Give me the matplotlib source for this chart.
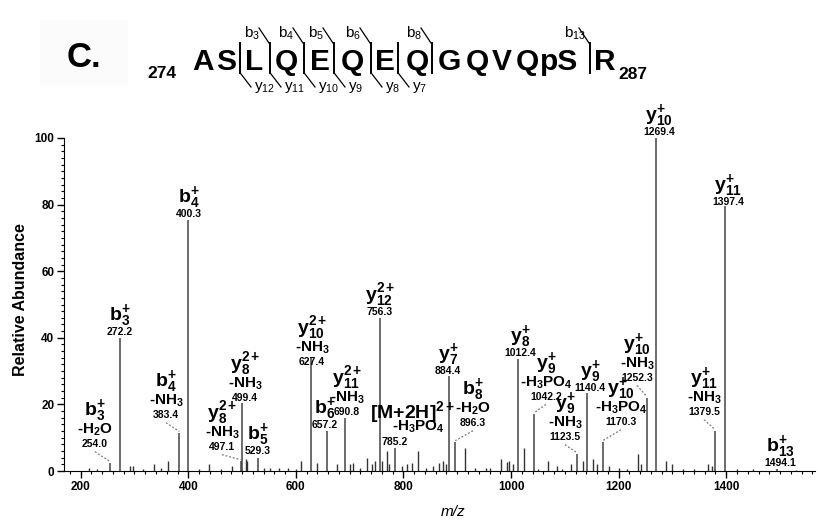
import matplotlib
matplotlib.use("Agg")
import matplotlib.pyplot as plt
from matplotlib.ticker import MultipleLocator
from matplotlib.transforms import offset_copy
from matplotlib.patches import Rectangle

plt.rcParams['font.family'] = ['Liberation Sans', 'DejaVu Sans']
plt.rcParams['mathtext.fontset'] = 'custom'
plt.rcParams['mathtext.rm'] = 'Liberation Sans'
plt.rcParams['mathtext.bf'] = 'Liberation Sans:bold'
plt.rcParams['mathtext.it'] = 'Liberation Sans:italic'

# labelled peaks (m/z, relative abundance)
peak_mz = [254.0, 272.2, 383.4, 400.3, 497.1, 499.4, 529.3, 627.4, 657.2, 690.8, 756.3, 785.2,
           884.4, 896.3, 1012.4, 1042.2, 1123.5, 1140.4, 1170.3, 1252.3, 1269.4, 1379.5, 1397.4, 1494.1]
peak_int = [2.5, 40, 11.5, 75.5, 3, 20.4, 4, 34, 12, 16, 46, 7,
            28.6, 8.7, 33.7, 17, 5, 23.5, 8.7, 22, 100, 12, 79.5, 0.6]
peak_ion = [r'b$_\mathbf{3}^\mathbf{+}$', r'b$_\mathbf{3}^\mathbf{+}$',
            r'b$_\mathbf{4}^\mathbf{+}$', r'b$_\mathbf{4}^\mathbf{+}$',
            r'y$_\mathbf{8}^\mathbf{2+}$', r'y$_\mathbf{8}^\mathbf{2+}$',
            r'b$_\mathbf{5}^\mathbf{+}$', r'y$_\mathbf{10}^\mathbf{2+}$',
            r'b$_\mathbf{6}^\mathbf{+}$', r'y$_\mathbf{11}^\mathbf{2+}$',
            r'y$_\mathbf{12}^\mathbf{2+}$', r'[M+2H]$^\mathbf{2+}$',
            r'y$_\mathbf{7}^\mathbf{+}$', r'b$_\mathbf{8}^\mathbf{+}$',
            r'y$_\mathbf{8}^\mathbf{+}$', r'y$_\mathbf{9}^\mathbf{+}$',
            r'y$_\mathbf{9}^\mathbf{+}$', r'y$_\mathbf{9}^\mathbf{+}$',
            r'y$_\mathbf{10}^\mathbf{+}$', r'y$_\mathbf{10}^\mathbf{+}$',
            r'y$_\mathbf{10}^\mathbf{+}$', r'y$_\mathbf{11}^\mathbf{+}$',
            r'y$_\mathbf{11}^\mathbf{+}$', r'b$_\mathbf{13}^\mathbf{+}$']
NH3 = r'-NH$_\mathbf{3}$'
H2O = r'-H$_\mathbf{2}$O'
H3PO4 = r'-H$_\mathbf{3}$PO$_\mathbf{4}$'
peak_loss = [H2O, None, NH3, None, NH3, NH3, None, NH3, None, NH3, None, H3PO4,
             None, H2O, None, H3PO4, NH3, None, H3PO4, NH3, None, NH3, None, None]

# unlabelled peaks
minor_mz = [215, 230, 292, 297, 315, 336, 350, 362, 420, 439, 460, 482, 507, 510, 540, 552, 568,
            585, 600, 609, 639, 676, 701, 706, 720, 732, 741, 747, 761, 769, 773, 797, 806, 815,
            827, 842, 855, 866, 873, 879, 914, 933, 954, 960, 982, 992, 997, 1004, 1024, 1050,
            1069, 1085, 1095, 1112, 1134, 1153, 1159, 1182, 1200, 1215, 1236, 1241, 1288, 1300,
            1320, 1340, 1367, 1373, 1420, 1450, 1530]
minor_int = [0.8, 0.6, 1.5, 1.5, 0.7, 2, 0.8, 3, 0.6, 2, 0.7, 1.5, 3.5, 3, 1, 1, 1,
             0.8, 0.6, 3, 2.5, 2, 2, 2.5, 1, 4, 2, 3, 3, 6, 2, 1.5, 2, 2.5,
             6, 1, 1.5, 2.5, 3, 2, 7, 1, 1, 0.8, 3.5, 2.8, 3, 2, 7, 0.6,
             3, 1.5, 0.7, 2, 3, 3.5, 2, 1.5, 0.8, 0.6, 5, 2, 3, 2,
             0.7, 0.6, 2, 1.5, 0.5, 0.5, 0.4]

# peptide header
residues = ['A', 'S', 'L', 'Q', 'E', 'Q', 'E', 'Q', 'G', 'Q', 'V', 'Q', 'pS', 'R']
b_ions = [3, 4, 5, 6, 8, 13]
y_ions = [12, 11, 10, 9, 8, 7]

# layout (not data): label anchor (m/z, %) of the number line, leader line on/off
label_pos = [(226.6, 8.1), (272.2, 41.8), (358.6, 16.8), (400.3, 77.3), (462.6, 7.2), (505.4, 22.0),
             (528.5, 6.0), (629.9, 32.8), (654.1, 13.8), (695.0, 17.7), (756.3, 47.8), (784.2, 8.7),
             (882.7, 30.1), (929.2, 14.4), (1016.5, 35.5), (1064.9, 22.3), (1100.2, 10.2),
             (1146.7, 25.0), (1204.3, 14.7), (1234.1, 28.0), (1275.0, 101.7), (1358.7, 17.7),
             (1403.3, 80.9), (1499.8, 2.4)]
leader = [1, 0, 1, 0, 1, 0, 0, 0, 0, 0, 0, 0, 0, 1, 0, 1, 1, 0, 1, 1, 0, 1, 0, 0]
seq_px = [203, 226, 254, 286, 320, 352, 385, 417, 449, 477, 502, 527, 559, 605]
cut_px = {2: 240, 3: 270, 4: 304, 5: 334, 6: 371, 7: 398, 8: 432, 13: 590}

W, H = 818, 529
fig = plt.figure(figsize=(W / 100, H / 100), dpi=100)
ax = fig.add_axes([64 / W, 1 - 471 / H, 751 / W, 333 / H])

ax.vlines(minor_mz, 0, minor_int, colors='#333333', lw=1.0)
ax.vlines(peak_mz, 0, peak_int, colors='#444444', lw=1.1)

ax.set_xlim(169, 1565)
ax.set_ylim(0, 100)
ax.set_xticks(range(200, 1600, 200))
ax.set_yticks(range(0, 101, 20))
ax.xaxis.set_minor_locator(MultipleLocator(20))
ax.yaxis.set_minor_locator(MultipleLocator(2))
ax.tick_params(which='major', direction='out', length=5, width=1, labelsize=8.5, pad=2)
ax.tick_params(which='minor', direction='out', length=2.5, width=0.8)
for t in ax.get_xticklabels() + ax.get_yticklabels():
    t.set_fontweight('bold')
for s in ['top', 'right']:
    ax.spines[s].set_visible(False)

ax.set_ylabel('Relative Abundance', fontsize=11.5, fontweight='bold')
ax.yaxis.set_label_coords(-0.048, 0.514)
ax.set_xlabel('m/z', fontsize=11, style='italic')
ax.xaxis.set_label_coords(0.518, -0.102)

for i in range(len(peak_mz)):
    x, y = label_pos[i]
    ax.text(x, y, '%.1f' % peak_mz[i], ha='center', va='center', fontsize=7.5, fontweight='bold')
    if peak_mz[i] == 785.2:
        off_loss, off_ion, dx_loss, dx_ion = 15, 24, 23, 18
    else:
        off_loss, off_ion, dx_loss, dx_ion = 14, 29 if peak_loss[i] else 12, 0, 0
    if peak_loss[i]:
        tr = offset_copy(ax.transData, fig, x=dx_loss, y=off_loss, units='dots')
        ax.text(x, y, peak_loss[i], transform=tr, ha='center', va='center', fontsize=11, fontweight='bold')
    tr = offset_copy(ax.transData, fig, x=dx_ion, y=off_ion, units='dots')
    ax.text(x, y, peak_ion[i], transform=tr, ha='center', va='baseline', fontsize=14, fontweight='bold')
    if leader[i]:
        ax.plot([x, peak_mz[i]], [y - 2.3, peak_int[i] + 0.4], ls=(0, (1.5, 1.5)), color='#777777', lw=0.9)

# header drawn in pixel space
hd = fig.add_axes([0, 0, 1, 1])
hd.set_xlim(0, W)
hd.set_ylim(H, 0)
hd.axis('off')
hd.add_patch(Rectangle((40, 20), 88, 65, facecolor='#fbfbfb', edgecolor='none'))
hd.text(67, 67, 'C.', fontsize=25, fontweight='bold', ha='left', va='baseline')
hd.text(147, 78, '274', fontsize=12.5, fontweight='bold', ha='left', va='baseline')
hd.text(618, 79, '287', fontsize=12.5, fontweight='bold', ha='left', va='baseline')
for r, px in zip(residues, seq_px):
    hd.text(px, 70, r, fontsize=21.5, fontweight='bold', ha='center', va='baseline')
for n, px in cut_px.items():
    hd.plot([px, px], [43, 73], color='black', lw=1.4)
for n in b_ions:
    px = cut_px[n]
    hd.plot([px - 11, px - 1], [28, 43], color='black', lw=0.9)
    hd.text(px - 26, 38, r'b$_{%d}$' % n, fontsize=11, ha='left', va='baseline')
for n in y_ions:
    px = cut_px[14 - n]
    hd.plot([px + 1, px + 11], [74, 87], color='black', lw=0.9)
    hd.text(px + 14, 90, r'y$_{%d}$' % n, fontsize=11, ha='left', va='baseline')

fig.savefig('out.png', dpi=100)
